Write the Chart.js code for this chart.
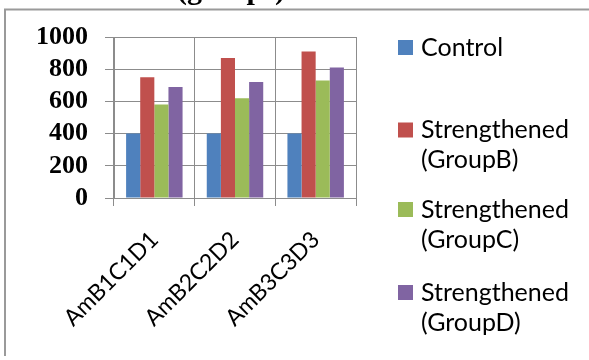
<!DOCTYPE html>
<html>
<head>
<meta charset="utf-8">
<script src="https://cdn.jsdelivr.net/npm/chart.js@4.4.0/dist/chart.umd.min.js"></script>
<style>
html,body{margin:0;padding:0;background:#fff;}
#wrap{position:relative;width:589px;height:360px;}
</style>
</head>
<body>
<div id="wrap"><canvas id="c" width="589" height="360"></canvas></div>
<script>
const categories = ["AmB1C1D1", "AmB2C2D2", "AmB3C3D3"];
const seriesNames = [["Control"], ["Strengthened", "(GroupB)"], ["Strengthened", "(GroupC)"], ["Strengthened", "(GroupD)"]];
const control = [400, 400, 400];
const groupB = [750, 870, 910];
const groupC = [580, 620, 730];
const groupD = [690, 720, 810];
const yTicks = [0, 200, 400, 600, 800, 1000];
const titleText = "(groups)";
const colors = ["#4F81BD", "#C0504D", "#9BBB59", "#8064A2"];

const SANS = "Lato, 'Liberation Sans', sans-serif";
const SERIF = "'Liberation Serif', 'DejaVu Serif', serif";

const framePlugin = {
  id: 'frame',
  beforeDraw(chart) {
    const ctx = chart.ctx;
    ctx.save();
    ctx.fillStyle = '#fff';
    ctx.fillRect(0, 0, chart.width, chart.height);
    ctx.strokeStyle = '#9a9a9a';
    ctx.lineWidth = 2;
    ctx.beginPath();
    ctx.moveTo(5, 356);
    ctx.lineTo(5, 9.5);
    ctx.lineTo(589, 9.5);
    ctx.stroke();
    // clipped title (only the lower part remains visible)
    ctx.fillStyle = '#000';
    ctx.font = "bold 30px " + SERIF;
    ctx.textAlign = 'center';
    ctx.textBaseline = 'alphabetic';
    ctx.fillText(titleText, 231, -1);
    ctx.restore();
  }
};

const legendPlugin = {
  id: 'customLegend',
  afterDraw(chart) {
    const ctx = chart.ctx;
    const centers = [47.5, 130, 209.5, 292.5];
    ctx.save();
    ctx.font = "25px " + SANS;
    ctx.textBaseline = 'middle';
    ctx.textAlign = 'left';
    chart.data.datasets.forEach((ds, i) => {
      const cy = centers[i];
      ctx.fillStyle = ds.backgroundColor;
      ctx.fillRect(398, cy - 7.5, 15, 15);
      ctx.fillStyle = '#000';
      seriesNames[i].forEach((line, j) => {
        ctx.fillText(line, 421, cy + j * 30);
      });
    });
    ctx.restore();
  }
};

const datasets = [control, groupB, groupC, groupD].map((vals, i) => ({
  label: seriesNames[i].join(' '),
  data: vals,
  backgroundColor: colors[i],
  borderWidth: 0,
  categoryPercentage: 0.70,
  barPercentage: 1.0
}));

new Chart(document.getElementById('c'), {
  type: 'bar',
  data: { labels: categories, datasets },
  plugins: [framePlugin, legendPlugin],
  options: {
    responsive: false,
    animation: false,
    events: [],
    layout: { padding: { left: 0, right: 233, top: 37, bottom: 0 } },
    plugins: { legend: { display: false }, tooltip: { enabled: false }, title: { display: false } },
    scales: {
      x: {
        grid: { color: '#8c8c8c', lineWidth: 1, offset: true, tickLength: 8, drawTicks: true },
        border: { color: '#8c8c8c', width: 1 },
        ticks: { color: '#000', font: { family: SANS, size: 23 }, maxRotation: 45, minRotation: 45, padding: 20, autoSkip: false },
        afterFit(scale) { scale.height = 162; }
      },
      y: {
        min: 0, max: 1000,
        afterBuildTicks(scale) { scale.ticks = yTicks.map(v => ({ value: v })); },
        grid: { color: '#8c8c8c', lineWidth: 1, tickLength: 9 },
        border: { color: '#8c8c8c', width: 1 },
        ticks: { color: '#000', font: { family: SERIF, size: 26, weight: 'bold' }, padding: 17, autoSkip: false,
                 callback: (v) => String(v) },
        afterFit(scale) { scale.width = 114; }
      }
    }
  }
});
</script>
</body>
</html>
